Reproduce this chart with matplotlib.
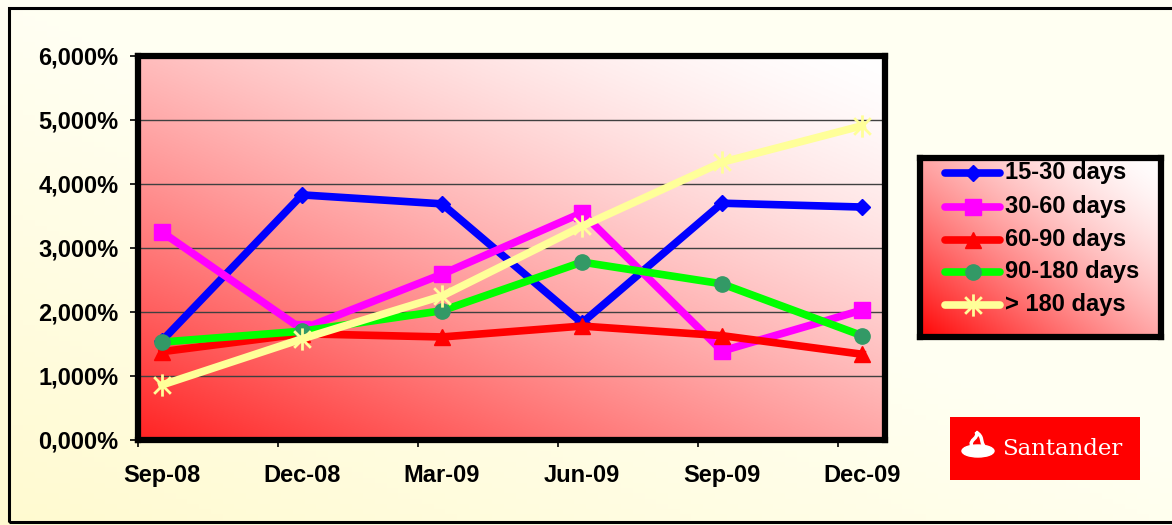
import numpy as np
import matplotlib
matplotlib.use('Agg')
import matplotlib.pyplot as plt
from matplotlib.path import Path
from matplotlib.patches import Rectangle, Ellipse, PathPatch
from matplotlib.lines import Line2D

# datos (en %)
categories = ['Sep-08', 'Dec-08', 'Mar-09', 'Jun-09', 'Sep-09', 'Dec-09']
d15_30 = [1.55, 3.83, 3.69, 1.83, 3.70, 3.64]
d30_60 = [3.25, 1.73, 2.59, 3.55, 1.39, 2.03]
d60_90 = [1.38, 1.66, 1.61, 1.78, 1.63, 1.34]
d90_180 = [1.53, 1.70, 2.02, 2.78, 2.44, 1.63]
d180 = [0.86, 1.58, 2.25, 3.34, 4.34, 4.91]
labels = ['15-30 days', '30-60 days', '60-90 days', '90-180 days', '> 180 days']
yticks = [0, 1, 2, 3, 4, 5, 6]

W, H = 1172, 525
plt.rcParams['font.family'] = ['Liberation Sans', 'DejaVu Sans']
plt.rcParams['font.weight'] = 'bold'
FS = 17

star = Path([(0, -1), (0, 1), (-0.75, -0.75), (0.75, 0.75), (-0.75, 0.75), (0.75, -0.75)],
            [Path.MOVETO, Path.LINETO, Path.MOVETO, Path.LINETO, Path.MOVETO, Path.LINETO])

styles = [
    dict(color='#0000FF', marker='D', ms=8, mfc='#0000FF', mec='#0000FF'),
    dict(color='#FF00FF', marker='s', ms=11, mfc='#FF00FF', mec='#FF00FF'),
    dict(color='#FF0000', marker='^', ms=11, mfc='#FF0000', mec='#FF0000'),
    dict(color='#00FF00', marker='o', ms=11, mfc='#339966', mec='#339966'),
    dict(color='#FFFF99', marker=star, ms=16, mfc='none', mec='#FFFF99', mew=2),
]


def px(x0, y0, w, h):
    return [x0 / W, 1 - (y0 + h) / H, w / W, h / H]


def red_white(lo, wu=0.5, n=200, p=1.5):
    # degradado diagonal: rojo abajo-izquierda, blanco arriba-derecha
    u = np.linspace(0, 1, n)[None, :]
    v = np.linspace(1, 0, n)[:, None]
    t = wu * u + (1 - wu) * v
    L = (255 - (255 - lo) * (1 - t) ** p) / 255.0
    return np.dstack([np.ones_like(L), L, L])


fig = plt.figure(figsize=(W / 100, H / 100), dpi=100)

# fondo amarillo claro
bg = fig.add_axes([0, 0, 1, 1], zorder=-10)
u = np.linspace(0, 1, 100)[None, :]
v = np.linspace(1, 0, 100)[:, None]
blue = np.clip(208 + 30 * u + 35 * v, 0, 242) / 255.0
green = np.clip(250 + 5 * u + 5 * v, 0, 255) / 255.0 * np.ones_like(blue)
bg.imshow(np.dstack([np.ones_like(blue), green, blue]), extent=[0, 1, 0, 1], aspect='auto',
          transform=bg.transAxes)
bg.set_axis_off()
fig.patches.append(Rectangle((9 / W, 3 / H), 1.2, 1 - 11 / H, transform=fig.transFigure,
                             fill=False, ec='black', lw=2.2, zorder=5))

# grafico principal
ax = fig.add_axes(px(138, 56, 747, 384))
ax.imshow(red_white(35, wu=0.45), extent=[0, 1, 0, 1], aspect='auto',
          transform=ax.transAxes, zorder=0)
x = np.arange(len(categories))
for vals, lab, st in zip([d15_30, d30_60, d60_90, d90_180, d180], labels, styles):
    ax.plot(x, vals, lw=5.5, label=lab, zorder=3, **st)

ax.set_xlim(-0.171, 5.164)
ax.set_ylim(0, 6)
ax.set_yticks(yticks)
ax.set_yticklabels([f'{v:.3f}%'.replace('.', ',') for v in yticks], fontsize=FS, fontweight='bold')
ax.set_xticks(x)
ax.set_xticklabels(categories, fontsize=FS, fontweight='bold')
ax.set_xticks([i - 0.171 for i in x], minor=True)
ax.tick_params(axis='x', which='major', length=0, pad=17)
ax.tick_params(axis='x', which='minor', length=5, width=1.2, direction='out')
ax.tick_params(axis='y', length=6, width=1.2, direction='out', pad=8)
ax.yaxis.grid(True, color='#404040', lw=1.0)
ax.set_axisbelow(False)
for g in ax.get_ygridlines():
    g.set_zorder(1)
for s in ax.spines.values():
    s.set_linewidth(4.5)
    s.set_color('black')
    s.set_zorder(4)

# leyenda
lg = fig.add_axes(px(920, 158, 241, 179))
lg.imshow(red_white(5, wu=0.5), extent=[0, 1, 0, 1], aspect='auto',
          transform=lg.transAxes, zorder=0)
lg.set_xlim(920, 1161)
lg.set_ylim(337, 158)
lg.set_xticks([])
lg.set_yticks([])
for s in lg.spines.values():
    s.set_linewidth(4.5)
rows = [173, 207, 240, 272, 305]
for ry, lab, st in zip(rows, labels, styles):
    lg.add_line(Line2D([945, 1000], [ry, ry], lw=5.5, solid_capstyle='round', color=st['color']))
    lg.plot([972.5], [ry], ls='none', **{k: v for k, v in st.items() if k != 'color'})
    lg.text(1005, ry, lab, fontsize=FS, fontweight='bold', va='center', ha='left')

# logo
lo = fig.add_axes(px(950, 417, 190, 63))
lo.set_facecolor('#FF0000')
lo.set_xlim(950, 1140)
lo.set_ylim(480, 417)
lo.set_xticks([])
lo.set_yticks([])
for s in lo.spines.values():
    s.set_visible(False)
lo.add_patch(Ellipse((978, 451), 32, 12, color='white'))
flame = Path([(972, 446), (968, 440), (980, 438), (976, 432),
              (984, 437), (980, 441), (984, 446)],
             [Path.MOVETO, Path.CURVE4, Path.CURVE4, Path.CURVE4,
              Path.CURVE4, Path.CURVE4, Path.CURVE4])
lo.add_patch(PathPatch(flame, fc='none', ec='white', lw=2.5))
lo.text(1062, 449, 'Santander', color='white', fontsize=16.5, family='DejaVu Serif',
        fontweight='normal', ha='center', va='center')

fig.savefig('out.png', dpi=100)
